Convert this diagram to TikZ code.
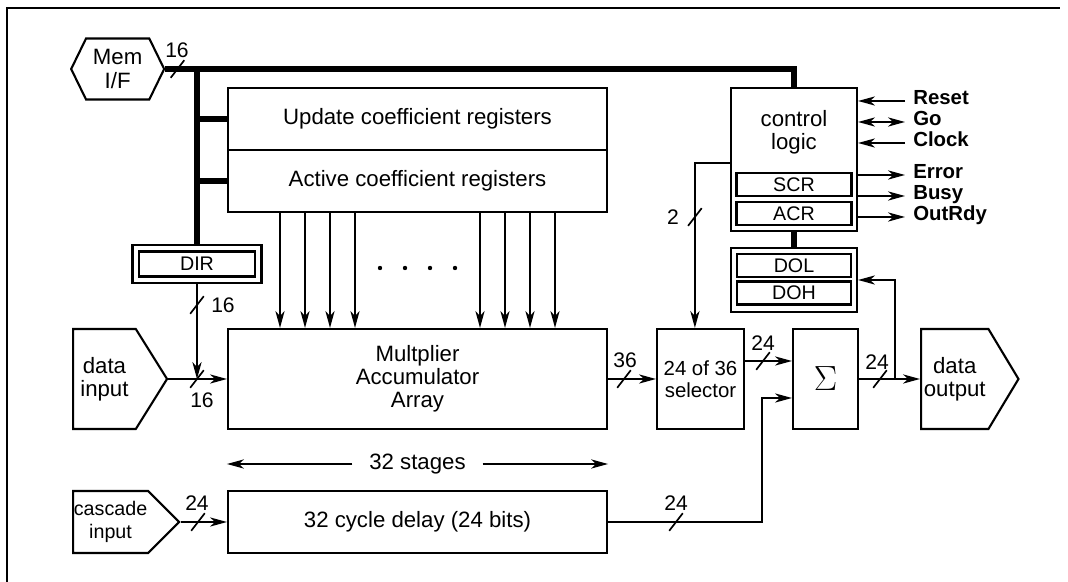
\documentclass[tikz,border=0pt]{standalone}
\usepackage{fontspec}
\setmainfont{Liberation Sans}
\usetikzlibrary{arrows.meta, shapes.symbols}
\tikzset{bustick/.pic={\draw[line width=1.2pt] (-0.17,-0.22) -- (0.17,0.22);}}

\begin{document}
\begin{tikzpicture}[
  >={Stealth[length=12pt, width=6.5pt, inset=3.5pt]},
  every node/.style={font=\fontsize{15.8}{16.5}\selectfont},
  blockbox/.style={rectangle, draw, line width=1.5pt, align=center, inner sep=2pt},
  regbox/.style={rectangle, draw, line width=1.5pt, inner sep=0pt, font=\fontsize{14}{14}\selectfont},
  portbox/.style={signal, draw, line width=1.5pt, align=center, inner sep=2pt, anchor=west},
  bus/.style={line width=4.5pt},
  wire/.style={line width=1.4pt, ->},
  bits/.style={font=\fontsize{15}{15}\selectfont, inner sep=1pt},
  pinlabel/.style={anchor=west, inner xsep=0.2cm, text height=0.75em, text depth=0.25em, font=\fontsize{14.5}{14.5}\selectfont\bfseries},
]
\useasboundingbox (0,0) rectangle (26.7,14.55);
\draw[line width=1.4pt] (0.175,0) -- (0.175,14.35) -- (26.5,14.35);

\node[portbox, signal to=east and west, signal pointer angle=128, minimum width=2.325cm, minimum height=1.525cm] (memif) at (1.75,12.825) {Mem\\I/F};
\node[blockbox, minimum width=9.475cm, minimum height=1.55cm] (upd) at (10.4375,11.575) {Update coefficient registers};
\node[blockbox, minimum width=9.475cm, minimum height=1.55cm] (act) at (10.4375,10.025) {Active coefficient registers};
\node[blockbox, minimum width=3.225cm, minimum height=0.95cm] (dirbox) at (4.925,7.95) {};
\node[regbox, minimum width=2.9cm, minimum height=0.625cm] (dir) at (dirbox.center) {DIR};
\node[portbox, signal to=east, signal pointer angle=116, minimum width=2.35cm, minimum height=2.5cm] (din) at (1.8,5.075) {data\\input};
\node[blockbox, minimum width=9.475cm, minimum height=2.5cm] (mac) at (10.4375,5.075) {Multplier\\Accumulator\\Array};
\node[blockbox, minimum width=2.175cm, minimum height=2.5cm, font=\fontsize{14.5}{16}\selectfont] (sel) at (17.5125,5.075) {24 of 36\\selector};
\node[blockbox, minimum width=1.625cm, minimum height=2.5cm, font=\fontsize{24}{24}\selectfont] (sum) at (20.6375,5.075) {$\Sigma$};
\node[portbox, signal to=east, signal pointer angle=118, minimum width=2.325cm, minimum height=2.5cm] (dout) at (23.0,5.075) {data\\output};
\node[blockbox, minimum width=3.15cm, minimum height=3.575cm] (ctrl) at (19.85,10.5625) {};
\node[align=center] (ctrltext) at (19.85,11.25) {control\\logic};
\node[regbox, minimum width=2.875cm, minimum height=0.575cm] (scr) at (19.85,9.9375) {SCR};
\node[regbox, minimum width=2.875cm, minimum height=0.575cm] (acr) at (19.85,9.2125) {ACR};
\node[blockbox, minimum width=3.15cm, minimum height=1.6cm] (dobox) at (19.85,7.55) {};
\node[regbox, minimum width=2.85cm, minimum height=0.575cm] (dol) at (19.85,7.9125) {DOL};
\node[regbox, minimum width=2.85cm, minimum height=0.575cm] (doh) at (19.85,7.225) {DOH};
\node[inner xsep=0.42cm] (stages) at (10.4375,2.95) {32 stages};
\node[portbox, signal to=east, signal pointer angle=90, minimum width=2.65cm, minimum height=1.55cm, inner xsep=0.5pt, font=\fontsize{14}{16}\selectfont] (casc) at (1.8,1.5) {cascade\\input};
\node[blockbox, minimum width=9.475cm, minimum height=1.55cm] (delay) at (10.4375,1.5) {32 cycle delay (24 bits)};

\node[pinlabel] (reset) at (22.625,12.025) {Reset};
\node[pinlabel] (go) at (22.625,11.5) {Go};
\node[pinlabel] (clock) at (22.625,10.975) {Clock};
\node[pinlabel] (error) at (22.625,10.175) {Error};
\node[pinlabel] (busy) at (22.625,9.65) {Busy};
\node[pinlabel] (outrdy) at (22.625,9.125) {OutRdy};

\draw[bus] (memif.east) -| (ctrl.north);
\draw[bus] (dirbox.north |- memif.east) -- (dirbox.north);
\draw[bus] (dirbox.north |- upd.west) -- (upd.west);
\draw[bus] (dirbox.north |- act.west) -- (act.west);
\draw[bus] (ctrl.south) -- (dobox.north);

\foreach \x in {7.0,7.625,8.25,8.875,12.0,12.625,13.25,13.875}
  \draw[wire] ({\x},0 |- act.south) -- ({\x},0 |- mac.north);
\foreach \x in {9.5,10.125,10.75,11.375}
  \fill (\x,7.85) circle (0.055);

\draw[wire] (din.east) -- (mac.west);
\draw[wire] (dirbox.south) -- (dirbox.south |- din.east);
\draw[wire] (mac.east) -- (sel.west);
\draw[wire] ([yshift=0.45cm]sel.east) -- ([yshift=0.45cm]sum.west);
\draw[wire] (sum.east) -- (dout.west);
\coordinate (split) at (22.375,5.075);
\draw[wire] (split) |- (dobox.east);
\draw[wire] ([yshift=-0.09cm]ctrl.west) -| ([xshift=-0.14cm]sel.north);
\draw[wire] (casc.east) -- (delay.west);
\draw[wire] (delay.east) -| ([xshift=-0.75cm,yshift=-0.475cm]sum.west) -- ([yshift=-0.475cm]sum.west);
\draw[wire] (stages.west) -- (stages.west -| mac.west);
\draw[wire] (stages.east) -- (stages.east -| mac.east);

\foreach \p in {reset, clock}
  \draw[wire] (\p.west) -- (\p.west -| ctrl.east);
\draw[wire, <->] (go.west) -- (go.west -| ctrl.east);
\foreach \p in {error, busy, outrdy}
  \draw[wire] (\p.west -| ctrl.east) -- (\p.west);

\pic at (4.4375,12.825) {bustick};
\node[bits] (bmem) at (4.425,13.3) {16};
\pic at (4.925,6.925) {bustick};
\node[bits] (bdir) at (5.575,6.925) {16};
\pic at (4.925,5.075) {bustick};
\node[bits] (bdin) at (5.05,4.55) {16};
\pic at (15.6,5.075) {bustick};
\node[bits] (bmac) at (15.625,5.55) {36};
\pic at (19.075,5.525) {bustick};
\node[bits] (bsel) at (19.075,5.975) {24};
\pic at (22.0,5.075) {bustick};
\node[bits] (bsum) at (21.925,5.5) {24};
\pic at (17.3725,9.125) {bustick};
\node[bits] (bctrl) at (16.825,9.125) {2};
\pic at (4.95,1.5) {bustick};
\node[bits] (bcasc) at (4.925,1.975) {24};
\pic at (16.9,1.5) {bustick};
\node[bits] (bdelay) at (16.9,1.975) {24};
\end{tikzpicture}
\end{document}
